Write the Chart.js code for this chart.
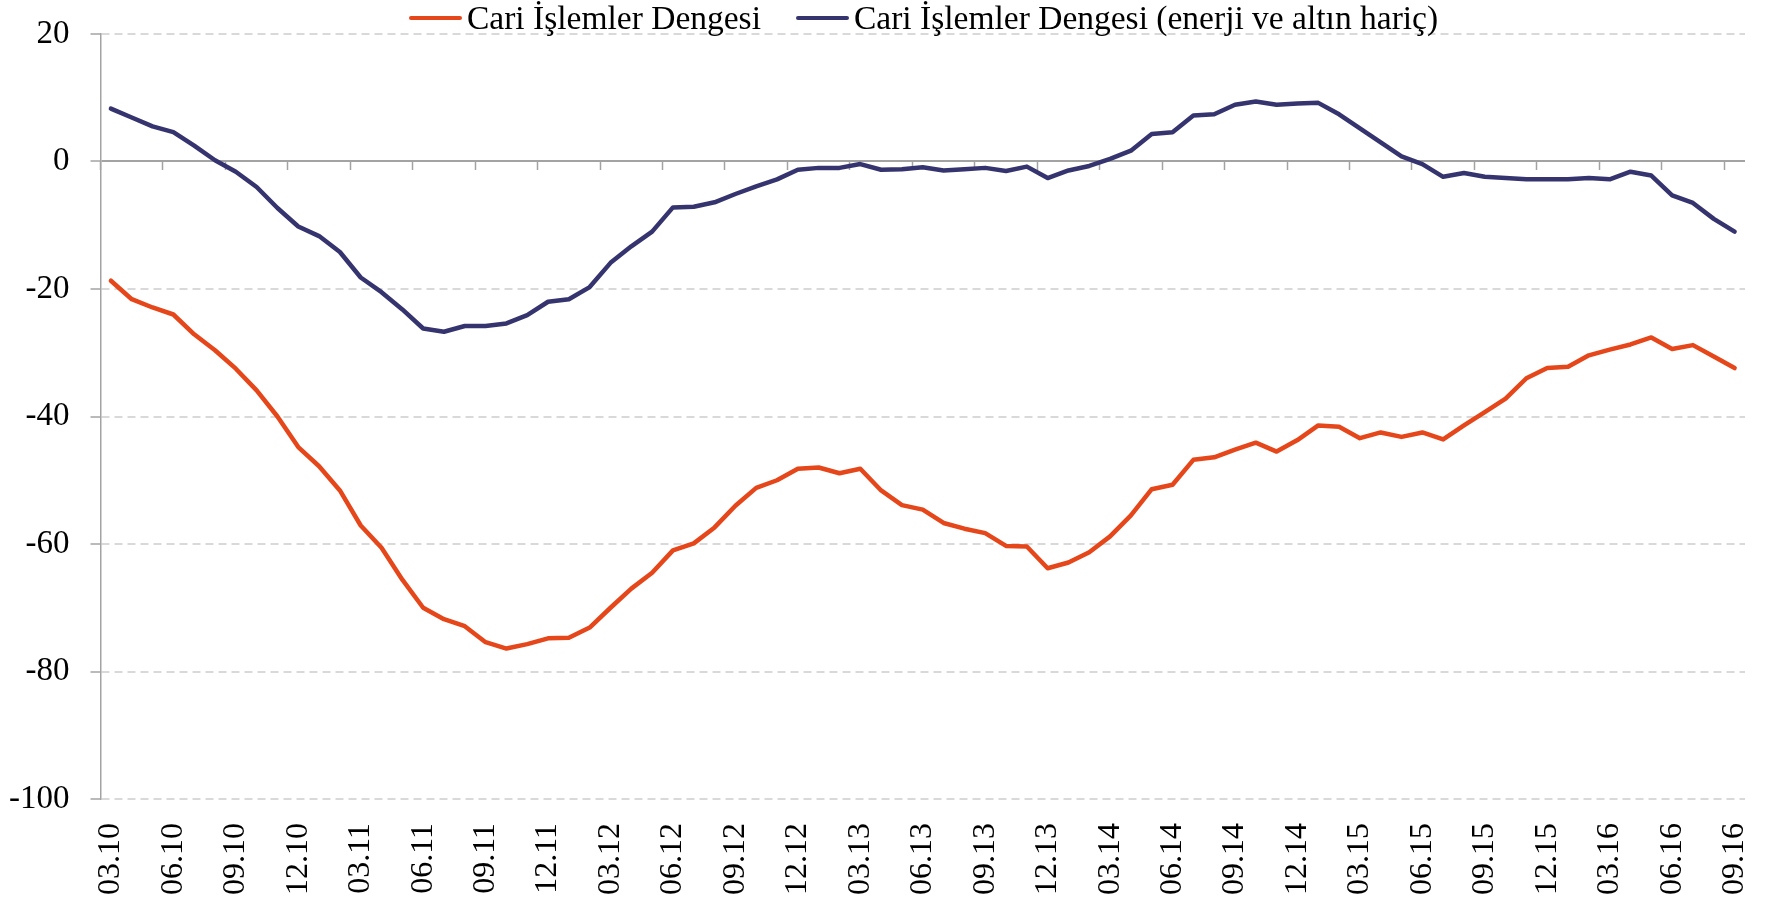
<!DOCTYPE html>
<html lang="tr">
<head>
<meta charset="utf-8">
<title>Cari İşlemler Dengesi</title>
<script src="https://cdn.jsdelivr.net/npm/chart.js@4.4.1/dist/chart.umd.min.js"></script>
<style>
  html, body { margin: 0; padding: 0; background: #fff; }
  #wrap { position: relative; width: 1769px; height: 903px; }
  #legend { position: absolute; top: 0; left: 0; width: 100%; height: 36px;
            font: 33.5px/36px "Liberation Serif", "Times New Roman", serif; color: #000; }
  .lg-item { position: absolute; top: 0; height: 36px; white-space: nowrap; display: flex; align-items: center; }
  .lg-line { display: inline-block; width: 53px; height: 4.5px; border-radius: 2px; margin-right: 5px; }
</style>
</head>
<body>
<div id="wrap">
  <canvas id="chart" width="1769" height="903"></canvas>
  <div id="legend"></div>
</div>
<script>
// ─── Data ────────────────────────────────────────────────────
const labels = [
  "03.10", "04.10", "05.10", "06.10", "07.10", "08.10", "09.10", "10.10", "11.10", "12.10",
  "01.11", "02.11", "03.11", "04.11", "05.11", "06.11", "07.11", "08.11", "09.11", "10.11", "11.11", "12.11",
  "01.12", "02.12", "03.12", "04.12", "05.12", "06.12", "07.12", "08.12", "09.12", "10.12", "11.12", "12.12",
  "01.13", "02.13", "03.13", "04.13", "05.13", "06.13", "07.13", "08.13", "09.13", "10.13", "11.13", "12.13",
  "01.14", "02.14", "03.14", "04.14", "05.14", "06.14", "07.14", "08.14", "09.14", "10.14", "11.14", "12.14",
  "01.15", "02.15", "03.15", "04.15", "05.15", "06.15", "07.15", "08.15", "09.15", "10.15", "11.15", "12.15",
  "01.16", "02.16", "03.16", "04.16", "05.16", "06.16", "07.16", "08.16", "09.16"
];

// Cari İşlemler Dengesi
const cariDenge = [
  -18.7, -21.6, -22.9, -24.0, -27.1, -29.6, -32.5, -35.9, -40.0, -44.8,
  -47.8, -51.6, -57.1, -60.6, -65.6, -70.0, -71.8, -72.9, -75.4, -76.4, -75.7, -74.8,
  -74.7, -73.1, -70.0, -67.0, -64.5, -61.0, -59.9, -57.4, -54.0, -51.2, -50.0, -48.2,
  -48.0, -48.9, -48.2, -51.6, -53.9, -54.6, -56.7, -57.6, -58.3, -60.3, -60.4, -63.8,
  -62.9, -61.3, -58.8, -55.5, -51.4, -50.7, -46.8, -46.4, -45.2, -44.1, -45.5, -43.7,
  -41.4, -41.6, -43.4, -42.5, -43.2, -42.5, -43.6, -41.4, -39.3, -37.2, -34.0, -32.4,
  -32.2, -30.4, -29.5, -28.7, -27.6, -29.4, -28.8, -30.6, -32.4
];

// Cari İşlemler Dengesi (enerji ve altın hariç)
const cariDengeEnerjiAltinHaric = [
  8.3, 6.9, 5.5, 4.6, 2.5, 0.2, -1.6, -4.0, -7.3, -10.2,
  -11.7, -14.2, -18.2, -20.5, -23.2, -26.2, -26.7, -25.8, -25.8, -25.4, -24.1, -22.0,
  -21.6, -19.7, -15.9, -13.3, -11.0, -7.2, -7.1, -6.4, -5.1, -3.9, -2.8, -1.3,
  -1.0, -1.0, -0.4, -1.3, -1.2, -0.9, -1.4, -1.2, -1.0, -1.5, -0.8, -2.6,
  -1.4, -0.7, 0.4, 1.7, 4.3, 4.6, 7.2, 7.4, 8.9, 9.4, 8.9, 9.1,
  9.2, 7.4, 5.2, 3.0, 0.8, -0.4, -2.4, -1.8, -2.4, -2.6, -2.8, -2.8,
  -2.8, -2.6, -2.8, -1.6, -2.2, -5.3, -6.5, -9.0, -11.0
];

const yTicks = [20, 0, -20, -40, -60, -80, -100];

// ─── Styles ──────────────────────────────────────────────────
const ORANGE = "#E5461A";
const NAVY = "#35346F";
const AXIS_GREY = "#A3A3A3";
const GRID_GREY = "#D9D9D9";

const datasets = [
  { label: "Cari İşlemler Dengesi", data: cariDenge, borderColor: ORANGE },
  { label: "Cari İşlemler Dengesi (enerji ve altın hariç)", data: cariDengeEnerjiAltinHaric, borderColor: NAVY },
].map(d => ({
  ...d,
  backgroundColor: d.borderColor,
  borderWidth: 4.5,
  pointRadius: 0,
  pointHoverRadius: 0,
  tension: 0,
  fill: false,
  borderJoinStyle: "round",
  borderCapStyle: "round",
}));

// fixed axis sizes so the plot area lands where the original one is
const noSidePadding = scale => { scale.paddingLeft = 0; scale.paddingRight = 0; };

// ─── Chart ───────────────────────────────────────────────────
const chart = new Chart(document.getElementById("chart"), {
  type: "line",
  data: { labels, datasets },
  options: {
    responsive: false,
    animation: false,
    events: [],
    layout: { padding: { top: 34, right: 24, bottom: 0, left: 0 } },
    plugins: {
      legend: { display: false },
      tooltip: { enabled: false },
    },
    scales: {
      // bottom labels, one every three months
      x: {
        type: "category",
        position: "bottom",
        offset: true,
        grid: { display: false },
        border: { display: false },
        afterFit: scale => { noSidePadding(scale); scale.height = 104; },
        ticks: {
          autoSkip: false,
          minRotation: 90,
          maxRotation: 90,
          padding: 16,
          color: "#000",
          font: { family: "Liberation Serif", size: 32 },
          callback: (val, i) => (i % 3 === 0 ? labels[i] : ""),
        },
      },
      // tick marks sitting on the zero line
      x0: {
        type: "category",
        position: { y: 0 },
        offset: true,
        border: { display: false },
        afterFit: noSidePadding,
        grid: {
          offset: true,
          drawOnChartArea: false,
          drawTicks: true,
          tickLength: 9,
          tickWidth: 1.5,
          tickColor: ctx => (ctx.index % 3 === 0 ? AXIS_GREY : "rgba(0,0,0,0)"),
        },
        ticks: { display: false },
      },
      y: {
        min: -100,
        max: 20,
        afterBuildTicks: scale => { scale.ticks = yTicks.map(v => ({ value: v })); },
        afterFit: scale => { scale.width = 100.5; scale.paddingTop = 0; scale.paddingBottom = 0; },
        border: {
          display: true,
          color: AXIS_GREY,
          width: 1.5,
          dash: ctx => (ctx.tick && ctx.tick.value === 0 ? [] : [8, 5]),
        },
        grid: {
          color: ctx => (ctx.tick && ctx.tick.value === 0 ? AXIS_GREY : GRID_GREY),
          lineWidth: 2,
          tickLength: 10,
          tickWidth: 1.5,
          tickColor: AXIS_GREY,
        },
        ticks: {
          padding: 21,
          color: "#000",
          font: { family: "Liberation Serif", size: 33 },
        },
      },
    },
  },
});

// ─── Legend (HTML, centred over the plot) ────────────────────
const legendLefts = [409, 796];
document.getElementById("legend").innerHTML = chart.data.datasets.map((d, i) => `
  <span class="lg-item" style="left:${legendLefts[i]}px">
    <span class="lg-line" style="background:${d.borderColor}"></span>${d.label}
  </span>`).join("");
</script>
</body>
</html>
